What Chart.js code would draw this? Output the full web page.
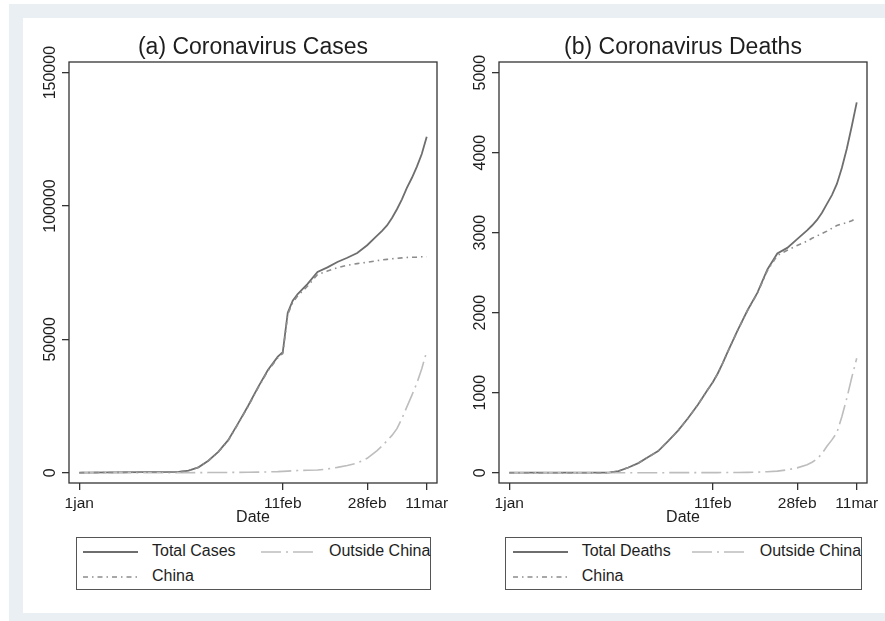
<!DOCTYPE html>
<html><head><meta charset="utf-8">
<script src="https://cdn.jsdelivr.net/npm/chart.js@4.4.0/dist/chart.umd.min.js"></script>
<style>
html,body{margin:0;padding:0;background:#fff;width:885px;height:621px;overflow:hidden;font-family:"Liberation Sans",Arial,sans-serif;}
#outer{position:absolute;left:9px;top:4px;width:876px;height:617px;background:#e9eff2;}
#inner{position:absolute;left:23px;top:18px;width:862px;height:595px;background:#fff;}
canvas{position:absolute;top:18px;}
.legend{position:absolute;top:537px;height:53px;border:1px solid #555;box-sizing:border-box;color:#1e1e1e;font-size:16px;}
.legend span{position:absolute;line-height:18px;white-space:nowrap;}
.legend svg{position:absolute;}
</style></head>
<body>
<div id="outer"></div><div id="inner"></div>
<canvas id="ca" width="430" height="509" style="left:24px"></canvas>
<canvas id="cb" width="430" height="509" style="left:454px"></canvas>
<div class="legend" id="la" style="left:76px;width:355px"></div>
<div class="legend" id="lb" style="left:505px;width:357px"></div>
<script>
// ---- data (day 0 = 1 Jan 2020) ----
const days = [0, 20, 22, 24, 26, 28, 30, 32, 34, 36, 38, 40, 41, 42, 43, 44, 46, 48, 50, 52, 54, 56, 58, 60, 61, 62, 63, 64, 65, 66, 67, 68, 69, 70];
const totalCases   = [0, 300, 800, 2000, 4500, 7800, 12200, 18500, 25000, 32000, 38500, 43500, 45200, 60000, 64500, 67000, 70800, 75300, 77000, 79000, 80600, 82400, 85300, 88900, 90700, 92700, 95500, 98800, 102500, 106800, 110500, 114700, 119500, 126000];
const chinaCases   = [0, 300, 800, 2000, 4450, 7750, 12050, 18300, 24800, 31700, 38200, 43100, 44700, 59400, 63800, 66300, 70000, 74300, 75600, 76900, 77800, 78400, 78900, 79500, 79800, 80000, 80200, 80400, 80550, 80700, 80800, 80850, 80950, 81000];
const outsideCases = [0, 0, 10, 30, 50, 70, 100, 130, 170, 220, 300, 400, 500, 600, 700, 800, 900, 1000, 1400, 2000, 2700, 3600, 5400, 8300, 10000, 12000, 14000, 16500, 20300, 24700, 29000, 33500, 39000, 45500];
const totalDeaths   = [0, 0, 20, 65, 120, 195, 270, 395, 525, 680, 850, 1040, 1130, 1240, 1370, 1510, 1780, 2030, 2250, 2540, 2740, 2810, 2920, 3030, 3090, 3160, 3250, 3360, 3470, 3610, 3810, 4050, 4330, 4630];
const chinaDeaths   = [0, 0, 20, 65, 120, 195, 270, 395, 524, 679, 849, 1039, 1129, 1239, 1368, 1508, 1777, 2026, 2244, 2525, 2715, 2780, 2840, 2895, 2930, 2960, 2990, 3020, 3055, 3090, 3110, 3125, 3150, 3185];
const outsideDeaths = [0, 0, 0, 0, 0, 0, 0, 0, 1, 1, 1, 1, 1, 1, 2, 2, 3, 4, 6, 12, 20, 35, 60, 100, 130, 170, 240, 330, 410, 500, 700, 930, 1190, 1430];
const xTickDays = [0, 41, 58, 70];
const xTickLabels = ['1jan', '11feb', '28feb', '11mar'];
const yTicksCases = [0, 50000, 100000, 150000];
const yTicksDeaths = [0, 1000, 2000, 3000, 4000, 5000];

const FONT = '"Liberation Sans", Arial, sans-serif';
const TXT = '#1e1e1e';
const C_TOTAL = '#6e6e6e', C_CHINA = '#8c8c8c', C_OUT = '#bdbdbd';
const D_CHINA = [5, 4, 1.5, 4], D_OUT = [20, 5, 2, 5];

const framePlugin = {
  id: 'framePlugin',
  afterDraw(chart, args, opts) {
    const ctx = chart.ctx, a = chart.chartArea, s = chart.scales.y;
    ctx.save();
    ctx.fillStyle = TXT;
    ctx.font = '16px ' + FONT;
    ctx.textAlign = 'center';
    ctx.textBaseline = 'alphabetic';
    s.ticks.forEach(t => {
      const y = s.getPixelForValue(t.value);
      ctx.save();
      ctx.translate(a.left - 14, y);
      ctx.rotate(-Math.PI / 2);
      ctx.fillText(String(t.value), 0, 0);
      ctx.restore();
    });
    ctx.font = '23px ' + FONT;
    ctx.textBaseline = 'middle';
    ctx.fillText(opts.title, (a.left + a.right) / 2, a.top - 14);
    ctx.strokeStyle = '#333';
    ctx.lineWidth = 1.3;
    ctx.strokeRect(a.left, a.top, a.right - a.left, a.bottom - a.top);
    ctx.restore();
  }
};

function pts(vals) { return days.map((d, i) => ({x: d, y: vals[i]})); }

function makeChart(id, title, names, series, yTicks, yMin, yMax) {
  const styles = [
    {c: C_TOTAL, dash: [], w: 1.8},
    {c: C_OUT, dash: D_OUT, w: 1.6},
    {c: C_CHINA, dash: D_CHINA, w: 1.6}
  ];
  const datasets = series.map((v, i) => ({
    label: names[i], data: pts(v), borderColor: styles[i].c, borderDash: styles[i].dash,
    borderWidth: styles[i].w, pointRadius: 0, tension: 0, fill: false
  })).reverse();
  return new Chart(document.getElementById(id), {
    type: 'line',
    data: {datasets},
    options: {
      responsive: false, animation: false, devicePixelRatio: 1,
      layout: {padding: {left: 0, top: 44, right: 17, bottom: 0}},
      plugins: {legend: {display: false}, tooltip: {enabled: false}, framePlugin: {title}},
      scales: {
        x: {
          type: 'linear', min: -2.07, max: 72.07,
          afterBuildTicks: s => { s.ticks = xTickDays.map(v => ({value: v})); },
          afterFit: s => { s.height = 44; },
          ticks: {callback: v => xTickLabels[xTickDays.indexOf(v)], color: TXT, font: {family: FONT, size: 15.5}, padding: 4, maxRotation: 0, autoSkip: false},
          grid: {drawOnChartArea: false, drawTicks: true, tickLength: 7, color: '#333', lineWidth: 1.3},
          border: {display: false},
          title: {display: true, text: 'Date', color: TXT, font: {family: FONT, size: 16}, padding: {top: 0, bottom: 0}}
        },
        y: {
          type: 'linear', min: yMin, max: yMax,
          afterBuildTicks: s => { s.ticks = yTicks.map(v => ({value: v})); },
          afterFit: s => { s.width = 45; },
          ticks: {display: false},
          grid: {drawOnChartArea: false, drawTicks: true, tickLength: 7, color: '#333', lineWidth: 1.3},
          border: {display: false}
        }
      }
    },
    plugins: [framePlugin]
  });
}

makeChart('ca', '(a) Coronavirus Cases', ['Total Cases', 'Outside China', 'China'],
  [totalCases, outsideCases, chinaCases], yTicksCases, -3860, 154000);
makeChart('cb', '(b) Coronavirus Deaths', ['Total Deaths', 'Outside China', 'China'],
  [totalDeaths, outsideDeaths, chinaDeaths], yTicksDeaths, -129, 5134);

function sample(color, dash, w, x, y) {
  return `<svg style="left:${x}px;top:${y - 3}px" width="55" height="6"><line x1="0" y1="3" x2="55" y2="3" stroke="${color}" stroke-width="${w}" stroke-dasharray="${dash.join(' ')}"/></svg>`;
}
function legend(id, name0, off) {
  const el = document.getElementById(id);
  el.innerHTML =
    sample(C_TOTAL, [], 1.8, 6 + off, 14) + `<span style="left:${75 + off}px;top:4px">${name0}</span>` +
    sample(C_OUT, D_OUT, 1.6, 184 + off * 2.5, 14) + `<span style="left:${252 + off * 2.5}px;top:4px">Outside China</span>` +
    sample(C_CHINA, D_CHINA, 1.6, 6 + off, 39) + `<span style="left:${75 + off}px;top:29px">China</span>`;
}
legend('la', 'Total Cases', 0);
legend('lb', 'Total Deaths', 0.7);
</script>
</body></html>
